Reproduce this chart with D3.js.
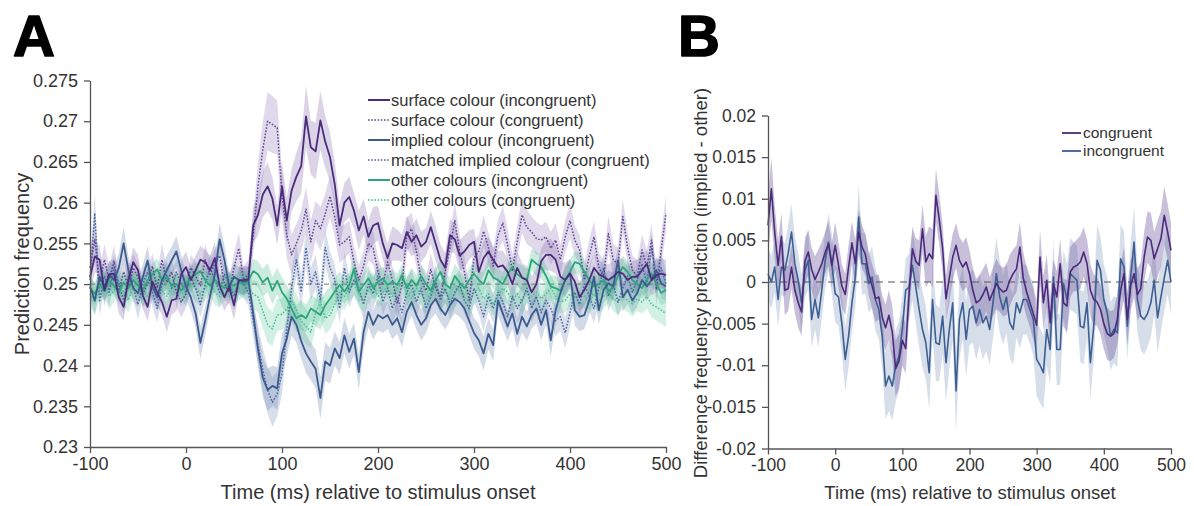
<!DOCTYPE html>
<html><head><meta charset="utf-8">
<script src="https://cdn.jsdelivr.net/npm/d3@7"></script>
<style>
html,body{margin:0;padding:0;background:#fff;}
svg{display:block;font-family:"Liberation Sans",Arial,Helvetica,sans-serif;}
</style></head>
<body><svg id="c" width="1194" height="506"></svg>
<script>
// ---------- DATA ----------
const times = [-100,-95,-90,-85,-80,-75,-70,-65,-60,-55,-50,
 -45,-40,-35,-30,-25,-20,-15,-10,-5,0,5,
 10,15,20,25,30,35,40,45,50,55,60,
 65,70,75,80,85,90,95,100,105,110,115,
 120,125,130,135,140,145,150,155,160,165,170,
 175,180,185,190,195,200,205,210,215,220,225,
 230,235,240,245,250,255,260,265,270,275,280,
 285,290,295,300,305,310,315,320,325,330,335,
 340,345,350,355,360,365,370,375,380,385,390,
 395,400,405,410,415,420,425,430,435,440,445,
 450,455,460,465,470,475,480,485,490,495,500];

// Panel A: prediction frequency
const surfaceIncongruent = [
 0.2508,0.2534,0.2530,0.2492,0.2512,0.2513,0.2484,0.2472,0.2505,0.2527,0.2517,
 0.2486,0.2472,0.2503,0.2490,0.2478,0.2460,0.2480,0.2482,0.2512,0.2521,0.2505,
 0.2517,0.2530,0.2527,0.2517,0.2532,0.2498,0.2484,0.2497,0.2474,0.2505,0.2505,
 0.2506,0.2572,0.2585,0.2610,0.2620,0.2605,0.2572,0.2620,0.2578,0.2615,0.2632,
 0.2645,0.2706,0.2668,0.2663,0.2701,0.2675,0.2656,0.2622,0.2572,0.2600,0.2607,
 0.2590,0.2566,0.2583,0.2558,0.2572,0.2575,0.2550,0.2532,0.2550,0.2548,0.2544,
 0.2564,0.2552,0.2560,0.2546,0.2552,0.2570,0.2550,0.2530,0.2520,0.2560,0.2555,
 0.2535,0.2540,0.2548,0.2552,0.2515,0.2532,0.2540,0.2530,0.2521,0.2523,0.2515,
 0.2500,0.2520,0.2508,0.2505,0.2490,0.2500,0.2528,0.2536,0.2536,0.2530,0.2509,
 0.2505,0.2513,0.2503,0.2484,0.2493,0.2505,0.2520,0.2512,0.2509,0.2505,0.2509,
 0.2515,0.2513,0.2505,0.2509,0.2509,0.2517,0.2525,0.2505,0.2511,0.2513,0.2511];
const surfaceCongruent = [
 0.2520,0.2555,0.2500,0.2530,0.2505,0.2528,0.2490,0.2515,0.2495,0.2520,0.2508,
 0.2488,0.2500,0.2522,0.2495,0.2530,0.2502,0.2515,0.2490,0.2478,0.2488,0.2520,
 0.2510,0.2498,0.2530,0.2512,0.2525,0.2535,0.2500,0.2490,0.2520,0.2544,0.2505,
 0.2512,0.2560,0.2620,0.2665,0.2700,0.2696,0.2692,0.2610,0.2560,0.2536,0.2550,
 0.2565,0.2592,0.2552,0.2578,0.2568,0.2586,0.2608,0.2582,0.2548,0.2552,0.2558,
 0.2527,0.2505,0.2522,0.2550,0.2544,0.2515,0.2499,0.2527,0.2505,0.2476,0.2499,
 0.2560,0.2568,0.2540,0.2505,0.2492,0.2518,0.2495,0.2484,0.2515,0.2545,0.2578,
 0.2540,0.2515,0.2480,0.2532,0.2540,0.2565,0.2545,0.2522,0.2560,0.2575,0.2548,
 0.2517,0.2552,0.2585,0.2570,0.2564,0.2556,0.2554,0.2558,0.2544,0.2554,0.2530,
 0.2558,0.2578,0.2554,0.2542,0.2505,0.2534,0.2558,0.2521,0.2509,0.2562,0.2530,
 0.2525,0.2583,0.2545,0.2517,0.2509,0.2542,0.2521,0.2554,0.2493,0.2542,0.2587];
const impliedIncongruent = [
 0.2497,0.2480,0.2509,0.2497,0.2512,0.2505,0.2520,0.2550,0.2517,0.2495,0.2489,
 0.2508,0.2529,0.2497,0.2484,0.2505,0.2517,0.2529,0.2540,0.2517,0.2497,0.2484,
 0.2464,0.2428,0.2455,0.2485,0.2512,0.2555,0.2530,0.2497,0.2509,0.2505,0.2503,
 0.2505,0.2464,0.2420,0.2385,0.2370,0.2375,0.2372,0.2415,0.2433,0.2460,0.2450,
 0.2430,0.2415,0.2405,0.2396,0.2360,0.2405,0.2400,0.2421,0.2409,0.2437,0.2417,
 0.2433,0.2392,0.2441,0.2466,0.2450,0.2462,0.2458,0.2462,0.2450,0.2458,0.2441,
 0.2466,0.2478,0.2462,0.2450,0.2458,0.2474,0.2482,0.2470,0.2462,0.2474,0.2482,
 0.2478,0.2470,0.2455,0.2440,0.2431,0.2415,0.2439,0.2425,0.2480,0.2464,0.2448,
 0.2464,0.2439,0.2460,0.2448,0.2462,0.2470,0.2450,0.2468,0.2431,0.2468,0.2489,
 0.2505,0.2513,0.2468,0.2460,0.2462,0.2480,0.2509,0.2468,0.2493,0.2501,0.2497,
 0.2529,0.2484,0.2493,0.2480,0.2489,0.2505,0.2497,0.2505,0.2517,0.2501,0.2497];
const matchedImpliedCongruent = [
 0.2505,0.2587,0.2478,0.2510,0.2490,0.2520,0.2500,0.2480,0.2510,0.2497,0.2475,
 0.2500,0.2515,0.2490,0.2470,0.2500,0.2512,0.2495,0.2515,0.2500,0.2490,0.2510,
 0.2495,0.2475,0.2500,0.2520,0.2505,0.2490,0.2512,0.2500,0.2485,0.2505,0.2500,
 0.2490,0.2455,0.2425,0.2395,0.2370,0.2355,0.2365,0.2390,0.2445,0.2495,0.2530,
 0.2490,0.2545,0.2500,0.2515,0.2480,0.2545,0.2520,0.2505,0.2470,0.2520,0.2490,
 0.2505,0.2495,0.2475,0.2500,0.2488,0.2510,0.2478,0.2495,0.2470,0.2485,0.2465,
 0.2490,0.2500,0.2478,0.2495,0.2470,0.2485,0.2505,0.2480,0.2495,0.2475,0.2490,
 0.2500,0.2480,0.2470,0.2495,0.2480,0.2460,0.2485,0.2470,0.2490,0.2478,0.2460,
 0.2485,0.2470,0.2480,0.2495,0.2470,0.2485,0.2465,0.2480,0.2470,0.2455,0.2460,
 0.2440,0.2465,0.2490,0.2475,0.2500,0.2485,0.2470,0.2495,0.2520,0.2485,0.2500,
 0.2478,0.2495,0.2510,0.2490,0.2505,0.2525,0.2500,0.2545,0.2505,0.2520,0.2500];
const otherIncongruent = [
 0.2495,0.2488,0.2500,0.2492,0.2505,0.2498,0.2490,0.2502,0.2495,0.2505,0.2498,
 0.2492,0.2505,0.2512,0.2518,0.2505,0.2508,0.2498,0.2500,0.2492,0.2500,0.2508,
 0.2512,0.2516,0.2505,0.2498,0.2505,0.2500,0.2495,0.2500,0.2498,0.2502,0.2500,
 0.2504,0.2516,0.2512,0.2502,0.2508,0.2492,0.2504,0.2490,0.2482,0.2470,0.2458,
 0.2462,0.2458,0.2470,0.2466,0.2462,0.2474,0.2482,0.2491,0.2499,0.2491,0.2499,
 0.2519,0.2491,0.2499,0.2507,0.2495,0.2503,0.2507,0.2499,0.2503,0.2499,0.2511,
 0.2495,0.2505,0.2498,0.2510,0.2500,0.2492,0.2505,0.2515,0.2500,0.2495,0.2510,
 0.2502,0.2495,0.2505,0.2513,0.2505,0.2500,0.2517,0.2508,0.2505,0.2500,0.2512,
 0.2521,0.2512,0.2508,0.2505,0.2530,0.2525,0.2521,0.2510,0.2497,0.2495,0.2492,
 0.2505,0.2515,0.2527,0.2525,0.2515,0.2505,0.2497,0.2500,0.2505,0.2492,0.2495,
 0.2510,0.2521,0.2515,0.2505,0.2500,0.2495,0.2505,0.2513,0.2500,0.2489,0.2493];
const otherCongruent = [
 0.2488,0.2478,0.2495,0.2500,0.2485,0.2492,0.2505,0.2490,0.2480,0.2495,0.2502,
 0.2490,0.2485,0.2498,0.2505,0.2492,0.2485,0.2495,0.2500,0.2488,0.2492,0.2500,
 0.2495,0.2488,0.2495,0.2502,0.2490,0.2485,0.2495,0.2500,0.2490,0.2495,0.2500,
 0.2495,0.2488,0.2484,0.2467,0.2450,0.2445,0.2462,0.2463,0.2470,0.2480,0.2468,
 0.2455,0.2448,0.2441,0.2465,0.2478,0.2458,0.2462,0.2475,0.2490,0.2485,0.2495,
 0.2500,0.2488,0.2480,0.2492,0.2500,0.2485,0.2490,0.2498,0.2485,0.2495,0.2502,
 0.2490,0.2482,0.2495,0.2488,0.2478,0.2490,0.2500,0.2485,0.2492,0.2480,0.2488,
 0.2498,0.2485,0.2478,0.2490,0.2495,0.2482,0.2488,0.2475,0.2485,0.2495,0.2490,
 0.2480,0.2488,0.2478,0.2492,0.2485,0.2490,0.2482,0.2488,0.2495,0.2485,0.2478,
 0.2480,0.2488,0.2482,0.2490,0.2485,0.2478,0.2488,0.2480,0.2485,0.2490,0.2482,
 0.2478,0.2485,0.2480,0.2476,0.2482,0.2478,0.2485,0.2475,0.2472,0.2468,0.2464];

// standard errors, in units of 1e-4
const seSurfaceIncongruent = [
 18,20,17,19,16,18,20,17,15,18,19, 16,18,20,17,16,19,18,15,17,19,16,
 18,17,15,18,20,16,17,19,18,16,17, 16,22,25,28,30,26,24,30,28,26,30,
 34,38,33,35,36,32,30,28,26,24,25, 22,24,22,20,23,21,20,18,21,19,17,
 20,18,21,19,17,20,22,19,18,21,17, 19,20,18,16,19,21,18,17,20,18,16,
 19,21,18,17,20,19,16,18,20,17,19, 21,18,16,18,20,17,19,18,16,19,20,
 17,18,16,19,21,18,17,19,20,18,19];
const seSurfaceCongruent = [
 20,24,18,19,17,20,18,16,19,17,18, 17,19,16,18,20,17,16,18,19,17,16,
 18,16,19,17,18,20,17,16,18,19,17, 18,24,30,34,36,35,33,30,28,25,24,
 25,28,26,24,27,25,26,24,22,21,20, 20,18,19,21,20,18,17,19,18,20,19,
 21,20,18,19,17,20,18,19,21,20,22, 20,19,18,20,21,19,18,20,19,21,20,
 19,20,22,21,19,20,18,19,20,21,19, 20,22,19,18,20,21,19,18,20,22,19,
 20,21,19,18,20,19,21,20,19,20,22];
const seImpliedIncongruent = [
 16,18,15,17,16,18,17,20,18,16,17, 16,18,17,15,16,18,17,19,18,16,17,
 18,20,18,17,18,20,18,16,17,16,17, 16,18,22,24,26,25,26,24,22,23,22,
 22,24,23,24,26,24,22,21,20,22,21, 20,22,21,19,18,19,18,17,18,19,18,
 18,17,18,19,18,17,18,17,18,19,18, 18,17,18,19,20,21,19,20,18,19,18,
 19,18,19,18,17,18,19,18,20,18,17, 18,17,19,18,17,18,17,18,17,16,17,
 17,18,17,16,17,16,17,16,17,18,17];
const seMatchedImpliedCongruent = [
 18,24,17,16,18,17,16,18,17,16,18, 17,16,18,17,16,17,18,16,17,18,16,
 17,16,18,17,16,18,17,16,17,18,17, 17,20,24,27,29,30,28,25,23,21,20,
 21,22,20,21,19,22,20,19,18,20,19, 18,19,18,17,19,18,17,18,19,17,18,
 17,18,19,17,18,17,19,18,17,18,19, 18,17,19,18,17,18,19,17,18,19,18,
 17,18,19,18,17,19,18,17,18,19,17, 19,18,17,18,19,17,18,19,17,18,19,
 18,17,19,18,17,18,19,17,18,19,18];
const seOtherIncongruent = [
 13,14,12,13,14,12,13,15,13,12,14, 13,12,14,13,15,14,12,13,14,12,13,
 14,13,12,14,13,12,14,13,12,13,14, 13,15,16,17,18,17,16,18,17,16,17,
 18,17,16,17,18,16,15,16,17,15,16, 15,14,15,16,14,15,14,13,15,14,13,
 14,15,13,14,15,13,14,15,14,13,15, 14,13,15,14,13,14,15,13,14,15,14,
 13,14,15,14,13,15,14,13,14,15,13, 14,15,13,14,15,14,13,15,14,13,14,
 15,14,13,15,14,13,14,15,14,15,16];
const seOtherCongruent = [
 15,16,14,15,16,14,15,17,15,14,16, 15,14,16,15,17,16,14,15,16,14,15,
 16,15,14,16,15,14,16,15,14,15,16, 15,17,19,21,22,21,20,19,20,19,20,
 21,22,20,19,18,19,18,17,16,17,16, 15,16,15,16,15,14,15,16,15,14,15,
 16,15,14,16,15,14,15,16,15,14,16, 15,14,16,15,14,15,16,14,15,16,15,
 14,15,16,15,14,16,15,14,15,16,14, 15,16,14,15,16,15,14,16,15,14,15,
 16,15,14,16,15,14,15,16,17,16,17];

// Panel B: difference (implied - other)
const diffCongruent = [
 0.0068,0.0112,0.0060,0.0020,0.0055,-0.0010,-0.0008,0.0018,-0.0010,-0.0025,-0.0036,
 0.0025,0.0036,0.0015,0.0003,0.0012,0.0022,0.0035,0.0046,0.0020,0.0044,0.0020,
 -0.0005,-0.0015,0.0018,0.0047,0.0022,0.0060,0.0042,0.0033,0.0010,-0.0005,-0.0020,
 -0.0018,-0.0042,-0.0055,-0.0040,-0.0060,-0.0104,-0.0095,-0.0070,-0.0080,-0.0015,0.0040,
 0.0025,0.0020,0.0064,0.0024,0.0034,0.0028,0.0104,0.0075,0.0040,-0.0020,0.0005,
 0.0030,0.0044,0.0026,0.0018,0.0024,0.0010,-0.0010,-0.0025,-0.0022,-0.0015,-0.0006,
 -0.0022,-0.0012,-0.0002,-0.0008,-0.0012,-0.0010,0.0002,0.0010,0.0016,0.0042,0.0005,
 -0.0012,-0.0025,-0.0038,-0.0052,0.0030,-0.0025,0.0002,-0.0049,-0.0002,-0.0018,0.0022,
 -0.0025,-0.0029,0.0012,0.0018,0.0020,0.0024,0.0036,0.0022,-0.0010,-0.0021,-0.0024,
 -0.0033,-0.0050,-0.0062,-0.0065,-0.0062,-0.0045,-0.0010,0.0010,-0.0045,-0.0004,0.0010,
 -0.0015,-0.0008,0.0030,0.0054,0.0050,0.0028,0.0040,0.0052,0.0080,0.0060,0.0038];
const diffIncongruent = [
 0.0010,0.0000,0.0018,-0.0021,0.0018,0.0014,0.0034,0.0060,0.0022,0.0002,-0.0025,
 0.0014,0.0026,-0.0045,-0.0021,-0.0043,-0.0010,0.0025,0.0048,0.0022,-0.0014,-0.0018,
 -0.0050,-0.0093,-0.0065,-0.0025,0.0006,0.0078,0.0022,0.0022,-0.0002,0.0006,-0.0021,
 -0.0033,-0.0065,-0.0125,-0.0113,-0.0125,-0.0101,-0.0089,-0.0057,-0.0010,-0.0006,0.0020,
 -0.0006,-0.0033,-0.0057,-0.0073,-0.0109,-0.0021,-0.0073,-0.0075,-0.0041,-0.0097,-0.0057,
 -0.0025,-0.0131,-0.0045,-0.0025,-0.0069,-0.0033,-0.0029,-0.0049,-0.0033,-0.0049,-0.0041,
 -0.0057,-0.0025,0.0010,-0.0018,-0.0033,-0.0018,-0.0049,-0.0057,-0.0025,-0.0037,-0.0021,
 -0.0021,-0.0033,-0.0045,-0.0093,-0.0100,-0.0109,-0.0057,-0.0081,0.0006,-0.0081,-0.0081,
 -0.0002,-0.0021,0.0010,0.0006,0.0002,-0.0053,-0.0055,-0.0025,-0.0097,-0.0053,0.0026,
 0.0014,-0.0021,-0.0037,-0.0065,-0.0057,-0.0061,0.0028,0.0018,-0.0053,0.0006,0.0048,
 -0.0021,-0.0041,-0.0045,-0.0038,-0.0025,0.0002,-0.0043,-0.0018,0.0005,0.0026,0.0000];
const seDiffCongruent = [
 35,38,32,30,28,30,27,26,28,30,29, 28,27,26,28,27,26,25,27,26,28,27,
 26,25,27,26,28,27,26,25,26,27,28, 27,26,28,30,32,34,33,31,30,28,27,
 28,30,29,31,33,35,32,30,29,28,30, 28,27,28,29,30,28,27,29,30,31,29,
 28,29,30,28,29,30,31,29,28,30,31, 30,29,31,30,32,33,31,30,29,31,30,
 29,31,30,29,31,32,30,29,31,30,29, 30,31,32,30,29,31,30,32,31,30,29,
 31,32,30,31,33,32,34,33,35,34,33];
const seDiffIncongruent = [
 30,32,31,33,34,32,35,34,33,32,34, 33,35,34,36,35,34,33,35,36,34,35,
 36,38,37,35,36,38,37,36,35,37,38, 36,38,40,42,41,43,42,40,38,40,42,
 44,45,46,44,43,45,46,44,45,47,46, 45,48,46,44,45,43,44,45,43,44,42,
 43,42,44,43,42,44,43,42,41,43,42, 42,41,43,44,45,44,43,42,44,43,42,
 41,42,43,42,41,43,44,42,43,41,42, 41,42,43,41,40,42,41,43,40,41,42,
 40,41,42,40,41,40,42,41,40,41,40];

const xTicks = [-100,0,100,200,300,400,500];
const yTicksA = [0.23,0.235,0.24,0.245,0.25,0.255,0.26,0.265,0.27,0.275];
const yTicksB = [-0.02,-0.015,-0.01,-0.005,0,0.005,0.01,0.015,0.02];
const legendA = ["surface colour (incongruent)","surface colour (congruent)","implied colour (incongruent)",
  "matched implied colour (congruent)","other colours (incongruent)","other colours (congruent)"];
const legendB = ["congruent","incongruent"];

// ---------- DRAW ----------
const svg = d3.select("#c");
const TXT = "#333";
const AX = "#555";

const seriesA = [
  {v:surfaceIncongruent, se:seSurfaceIncongruent, c:"#4b2b7b", band:"#7a5fa8", dotted:false, name:legendA[0]},
  {v:surfaceCongruent, se:seSurfaceCongruent, c:"#5e4590", band:"#8a74b4", dotted:true, name:legendA[1]},
  {v:impliedIncongruent, se:seImpliedIncongruent, c:"#3b5a8e", band:"#5c78a8", dotted:false, name:legendA[2]},
  {v:matchedImpliedCongruent, se:seMatchedImpliedCongruent, c:"#4d66a0", band:"#6f88b6", dotted:true, name:legendA[3]},
  {v:otherIncongruent, se:seOtherIncongruent, c:"#2ba57c", band:"#3dba88", dotted:false, name:legendA[4]},
  {v:otherCongruent, se:seOtherCongruent, c:"#4cbf90", band:"#5cc89a", dotted:true, name:legendA[5]}
];

function drawAxes(g, x, y, yTicks, fs) {
  const xa = g.append("g").attr("transform", `translate(0,${y.range()[0]})`)
    .call(d3.axisBottom(x).tickValues(xTicks).tickFormat(d => String(d)).tickSize(6).tickSizeOuter(0).tickPadding(4));
  const ya = g.append("g").attr("transform", `translate(${x.range()[0]},0)`)
    .call(d3.axisLeft(y).tickValues(yTicks).tickFormat(d => String(d)).tickSize(6).tickSizeOuter(0).tickPadding(6));
  [xa, ya].forEach(a => {
    a.select(".domain").attr("stroke", AX).attr("stroke-width", 1.3);
    a.selectAll(".tick line").attr("stroke", AX).attr("stroke-width", 1.3);
    a.selectAll(".tick text").attr("fill", TXT).style("font-size", fs + "px")
      .style("font-family", '"Liberation Sans",Arial,sans-serif');
  });
}

// ----- Panel A -----
const xA = d3.scaleLinear().domain([-100, 500]).range([90, 666]);
const yA = d3.scaleLinear().domain([0.23, 0.275]).range([447, 80.5]);
const gA = svg.append("g");

seriesA.forEach(s => {
  const area = d3.area()
    .x((d, i) => xA(times[i]))
    .y0((d, i) => yA(d - s.se[i] * 1e-4))
    .y1((d, i) => yA(d + s.se[i] * 1e-4));
  gA.append("path").attr("d", area(s.v)).attr("fill", s.band).attr("fill-opacity", 0.27).attr("stroke", "none");
});
gA.append("line").attr("x1", xA(-100)).attr("x2", xA(500)).attr("y1", yA(0.25)).attr("y2", yA(0.25))
  .attr("stroke", "#777").attr("stroke-width", 1).attr("stroke-dasharray", "5,4");
const order = [5, 3, 1, 4, 2, 0];
order.forEach(k => {
  const s = seriesA[k];
  const line = d3.line().x((d, i) => xA(times[i])).y(d => yA(d));
  gA.append("path").attr("d", line(s.v)).attr("fill", "none").attr("stroke", s.c)
    .attr("stroke-width", s.dotted ? 1.5 : 1.8)
    .attr("stroke-dasharray", s.dotted ? "1.6,1.6" : null)
    .attr("stroke-linejoin", "round");
});
drawAxes(gA, xA, yA, yTicksA, 18);

const legA = gA.append("g");
seriesA.forEach((s, i) => {
  const yy = 100 + i * 20;
  legA.append("line").attr("x1", 368).attr("x2", 390).attr("y1", yy).attr("y2", yy)
    .attr("stroke", s.c).attr("stroke-width", s.dotted ? 1.5 : 2)
    .attr("stroke-dasharray", s.dotted ? "1.6,1.6" : null);
  legA.append("text").attr("x", 391).attr("y", yy).attr("dy", "0.35em")
    .attr("fill", TXT).style("font-size", "16.5px").text(s.name);
});

gA.append("text").attr("transform", "translate(29,264) rotate(-90)").attr("text-anchor", "middle")
  .attr("fill", TXT).style("font-size", "20px").text("Prediction frequency");
gA.append("text").attr("x", 378).attr("y", 499).attr("text-anchor", "middle")
  .attr("fill", TXT).style("font-size", "20px").text("Time (ms) relative to stimulus onset");
svg.append("text").attr("x", 13).attr("y", 56).attr("fill", "#000")
  .attr("stroke", "#000").attr("stroke-width", 1.6).attr("stroke-linejoin", "round")
  .style("font-size", "58px").style("font-weight", "bold").text("A");

// ----- Panel B -----
const xB = d3.scaleLinear().domain([-100, 500]).range([768, 1171]);
const yB = d3.scaleLinear().domain([-0.02, 0.02]).range([448.5, 115.5]);
const gB = svg.append("g");
const seriesB = [
  {v:diffIncongruent, se:seDiffIncongruent, c:"#3d5f92", band:"#6c87b4", op:0.28, name:legendB[1]},
  {v:diffCongruent, se:seDiffCongruent, c:"#4b2b7b", band:"#6e5a9e", op:0.38, name:legendB[0]}
];
seriesB.forEach(s => {
  const area = d3.area()
    .x((d, i) => xB(times[i]))
    .y0((d, i) => yB(d - s.se[i] * 1e-4))
    .y1((d, i) => yB(d + s.se[i] * 1e-4));
  gB.append("path").attr("d", area(s.v)).attr("fill", s.band).attr("fill-opacity", s.op);
});
gB.append("line").attr("x1", xB(-100)).attr("x2", xB(500)).attr("y1", yB(0)).attr("y2", yB(0))
  .attr("stroke", "#555").attr("stroke-width", 1.1).attr("stroke-dasharray", "7,5");
seriesB.forEach(s => {
  const line = d3.line().x((d, i) => xB(times[i])).y(d => yB(d));
  gB.append("path").attr("d", line(s.v)).attr("fill", "none").attr("stroke", s.c)
    .attr("stroke-width", 1.6).attr("stroke-linejoin", "round");
});
drawAxes(gB, xB, yB, yTicksB, 17.5);

[seriesB[1], seriesB[0]].forEach((s, i) => {
  const yy = 133 + i * 18;
  gB.append("line").attr("x1", 1062).attr("x2", 1081).attr("y1", yy).attr("y2", yy)
    .attr("stroke", s.c).attr("stroke-width", 1.8);
  gB.append("text").attr("x", 1083).attr("y", yy).attr("dy", "0.35em")
    .attr("fill", TXT).style("font-size", "15.5px").text(s.name);
});

gB.append("text").attr("transform", "translate(707,283) rotate(-90)").attr("text-anchor", "middle")
  .attr("fill", TXT).style("font-size", "18.5px").text("Difference frequency prediction (implied - other)");
gB.append("text").attr("x", 970).attr("y", 499).attr("text-anchor", "middle")
  .attr("fill", TXT).style("font-size", "18.5px").text("Time (ms) relative to stimulus onset");
svg.append("text").attr("x", 678).attr("y", 56).attr("fill", "#000")
  .attr("stroke", "#000").attr("stroke-width", 1.6).attr("stroke-linejoin", "round")
  .style("font-size", "58px").style("font-weight", "bold").text("B");
</script>
</body></html>
